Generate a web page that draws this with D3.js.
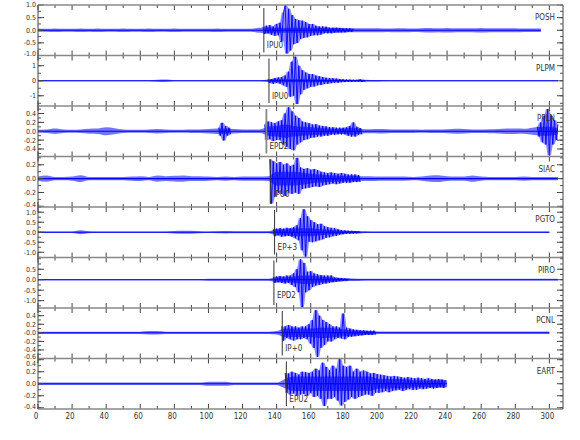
<!DOCTYPE html>
<html><head><meta charset="utf-8">
<script src="https://cdn.jsdelivr.net/npm/d3@7"></script>
<style>
body{margin:0;background:#fff}
text{font-family:"DejaVu Sans Condensed","DejaVu Sans",sans-serif;font-stretch:condensed;fill:#333}
</style>
</head><body>
<svg id="c" width="580" height="440"></svg>
<script>
// ---------------- DATA ----------------
const stations = ["POSH","PLPM","PPLN","SIAC","PGTO","PIRO","PCNL","EART"];
const pickTimes = [132.5, 135.5, 134, 136.3, 138.8, 138.4, 143.3, 145.7];
const pickLabels = ["IPU0","IPU0","EPD2","IPU0","EP+3","EPD2","IP+0","EPU2"];
const yDomains = [[-1,1],[-1.68,1.68],[-0.57,0.57],[-0.41,0.32],[-1.26,1.26],[-1.35,1.06],[-0.6,0.58],[-0.42,0.42]];
const yTickVals = [[1,0.5,0,-0.5,-1],[1,0,-1],[0.4,0.2,0,-0.2,-0.4],[0.2,0,-0.2,-0.4],[1,0.5,0,-0.5,-1],[0.5,0,-0.5,-1],[0.4,0.2,0,-0.2,-0.4,-0.6],[0.4,0.2,0,-0.2,-0.4]];
const yTickLabels = [["1.0","0.5","0.0","-0.5","-1.0"],["1","0","-1"],["0.4","0.2","0.0","-0.2","-0.4"],["0.2","0.0","-0.2","-0.4"],["1.0","0.5","0.0","-0.5","-1.0"],["0.5","0.0","-0.5","-1.0"],["0.4","0.2","-0.0","-0.2","-0.4","-0.6"],["0.4","0.2","0.0","-0.2","-0.4"]];
const yMinorStep = [0.25,0.5,0.1,0.1,0.25,0.25,0.1,0.1];
const xTickVals = [0,20,40,60,80,100,120,140,160,180,200,220,240,260,280,300];

// background noise amplitude, 5 s bins starting at t=0
const noiseStep = 5;
const POSH_noise = [0.06,0.06,0.07,0.06,0.06,0.07,0.06,0.07,0.06,0.06,0.07,0.06,0.06,0.07,0.06,0.06,0.07,0.06,0.06,0.06,0.06,0.07,0.06,0.06,0.06,0.06,0.1,0.12,0.1,0.1,0.1,0.1,0.1,0.1,0.1,0.1,0.09,0.08,0.08,0.08,0.08,0.07,0.08,0.08,0.07,0.08,0.09,0.08,0.09,0.08,0.08,0.08,0.09,0.08,0.08,0.08,0.08,0.07,0.07,0.07];
const PLPM_noise = [0.03,0.03,0.03,0.035,0.03,0.03,0.03,0.035,0.03,0.03,0.03,0.03,0.035,0.04,0.06,0.08,0.04,0.03,0.03,0.03,0.03,0.03,0.03,0.03,0.03,0.03,0.03,0.08,0.1,0.1,0.1,0.1,0.1,0.08,0.07,0.06,0.05,0.05,0.06,0.05,0.05,0.04,0.035,0.035,0.035,0.035,0.035,0.035,0.035,0.035,0.035,0.035,0.035,0.035,0.035,0.035,0.035,0.035,0.035,0.035,0.035,0.035];
const PPLN_noise = [0.035,0.04,0.06,0.04,0.035,0.04,0.055,0.06,0.09,0.07,0.04,0.035,0.035,0.04,0.05,0.04,0.035,0.035,0.04,0.04,0.05,0.06,0.06,0.05,0.04,0.04,0.04,0.1,0.12,0.15,0.12,0.1,0.09,0.08,0.06,0.05,0.06,0.08,0.05,0.045,0.05,0.045,0.04,0.04,0.04,0.035,0.04,0.04,0.045,0.055,0.05,0.04,0.04,0.045,0.05,0.06,0.06,0.055,0.08,0.1,0.1,0.06];
const SIAC_noise = [0.03,0.045,0.025,0.025,0.03,0.05,0.025,0.025,0.025,0.025,0.025,0.03,0.035,0.025,0.045,0.035,0.04,0.045,0.035,0.035,0.03,0.025,0.03,0.025,0.03,0.03,0.03,0.035,0.1,0.1,0.1,0.09,0.07,0.06,0.05,0.045,0.04,0.04,0.035,0.035,0.03,0.03,0.03,0.03,0.025,0.03,0.045,0.05,0.035,0.03,0.03,0.045,0.03,0.025,0.025,0.025,0.025,0.03,0.025,0.025,0.025,0.025];
const PGTO_noise = [0.04,0.04,0.04,0.04,0.04,0.1,0.05,0.04,0.04,0.04,0.04,0.04,0.04,0.04,0.04,0.04,0.06,0.07,0.07,0.05,0.04,0.05,0.06,0.05,0.05,0.055,0.05,0.05,0.15,0.15,0.2,0.2,0.2,0.15,0.12,0.1,0.07,0.06,0.05,0.04,0.04,0.04,0.04,0.04,0.04,0.04,0.04,0.04,0.04,0.04,0.04,0.04,0.04,0.04,0.04,0.04,0.04,0.04,0.04,0.04,0.04];
const PIRO_noise = [0.03,0.03,0.03,0.03,0.03,0.03,0.03,0.03,0.03,0.03,0.03,0.03,0.03,0.03,0.03,0.03,0.03,0.03,0.03,0.03,0.05,0.05,0.05,0.05,0.05,0.05,0.05,0.05,0.12,0.12,0.15,0.2,0.2,0.15,0.12,0.1,0.07,0.06,0.045,0.04,0.04,0.04,0.04,0.04,0.04,0.04,0.04,0.04,0.04,0.04,0.04,0.04,0.04,0.04,0.04,0.04,0.04,0.04,0.04,0.04,0.04,0.04];
const PCNL_noise = [0.025,0.025,0.025,0.025,0.025,0.025,0.025,0.025,0.025,0.025,0.025,0.025,0.025,0.04,0.04,0.025,0.025,0.025,0.025,0.025,0.025,0.025,0.025,0.025,0.025,0.025,0.025,0.025,0.04,0.1,0.1,0.1,0.1,0.12,0.12,0.1,0.08,0.06,0.05,0.04,0.03,0.03,0.03,0.03,0.03,0.03,0.03,0.03,0.03,0.03,0.03,0.03,0.03,0.03,0.03,0.03,0.03,0.03,0.03,0.03,0.03];
const EART_noise = [0.02,0.02,0.02,0.02,0.02,0.02,0.02,0.02,0.02,0.02,0.02,0.02,0.02,0.02,0.02,0.02,0.02,0.02,0.02,0.02,0.035,0.035,0.035,0.02,0.02,0.02,0.02,0.02,0.02,0.08,0.12,0.12,0.12,0.12,0.12,0.12,0.12,0.12,0.12,0.12,0.08,0.08,0.08,0.08,0.06,0.06,0.06,0.06,0.06];

// signal peaks, 1 s step, starting at the given time
const waveStep = 1;
const POSH_wave_t0 = 132;
const POSH_wave = [0.12,-0.15,0.18,-0.12,0.2,-0.18,0.15,-0.22,0.25,-0.2,0.3,-0.45,0.7,1.0,-0.92,0.85,-0.8,0.6,-0.55,0.45,-0.5,0.4,-0.35,0.38,-0.3,0.32,-0.28,0.25,-0.22,0.25,-0.2,0.18,-0.2,0.15,-0.17,0.15,-0.12,0.14,-0.12,0.1,-0.12,0.1,-0.09,0.1,-0.08,0.09,-0.08,0.07,-0.08,0.07,-0.06,0.07,-0.06,0.06];
const PLPM_wave_t0 = 135;
const PLPM_wave = [0.1,-0.15,0.12,-0.2,0.18,-0.15,0.22,-0.2,0.25,-0.3,0.35,-0.4,0.6,-1.06,1.27,-1.0,1.6,-1.55,1.0,-0.9,0.7,-0.6,0.55,-0.5,0.45,-0.4,0.45,-0.38,0.35,-0.3,0.3,-0.28,0.25,-0.22,0.2,-0.2,0.18,-0.16,0.17,-0.14,0.15,-0.13,0.12,-0.1,0.1,-0.09,0.09,-0.08,0.08,-0.07,0.07,-0.06,0.06,-0.06,0.1,-0.08,0.05,-0.05];
const PPLN_wave_t0 = 133;
const PPLN_wave = [0.15,-0.2,0.22,-0.18,0.2,-0.22,0.18,-0.2,0.22,-0.2,0.25,-0.3,0.4,-0.35,0.54,-0.4,0.45,-0.43,0.35,-0.3,0.3,-0.25,0.22,-0.2,0.2,-0.18,0.18,-0.15,0.15,-0.14,0.16,-0.12,0.13,-0.12,0.12,-0.1,0.11,-0.1,0.09,-0.08,0.09,-0.08,0.08,-0.07,0.08,-0.07,0.08,-0.07,0.09,-0.1,0.12,-0.12,0.2,-0.12,0.1,-0.08,0.07,-0.07];
const PPLN_ev1_t0 = 106;
const PPLN_ev1 = [0.08,-0.1,0.19,-0.21,0.12,-0.1,0.08,-0.07];
const PPLN_ev2_t0 = 293;
const PPLN_ev2 = [0.1,-0.12,0.2,-0.25,0.35,-0.3,0.5,-0.54,0.35,-0.3,0.25,-0.2,0.15];
const SIAC_wave_t0 = 136;
const SIAC_wave = [0.28,-0.36,0.25,-0.26,0.22,-0.2,0.24,-0.22,0.2,-0.25,0.22,-0.2,0.18,-0.22,0.2,-0.2,0.3,-0.22,0.16,-0.15,0.14,-0.14,0.15,-0.13,0.13,-0.12,0.14,-0.11,0.12,-0.12,0.1,-0.1,0.09,-0.09,0.08,-0.08,0.09,-0.07,0.08,-0.08,0.07,-0.07,0.08,-0.06,0.07,-0.06,0.06,-0.06,0.06,-0.05,0.06,-0.05,0.05,-0.05];
const PGTO_wave_t0 = 138;
const PGTO_wave = [0.15,-0.2,0.18,-0.15,0.2,-0.22,0.18,-0.2,0.22,-0.18,0.2,-0.22,0.25,-0.3,0.35,-0.4,0.7,-0.9,1.15,-1.22,0.8,-0.47,0.6,-0.5,0.5,-0.45,0.4,-0.4,0.42,-0.35,0.3,-0.28,0.25,-0.25,0.22,-0.2,0.2,-0.18,0.15,-0.12,0.1,-0.1,0.09,-0.08,0.08,-0.07,0.07,-0.06,0.06,-0.06,0.05,-0.05];
const PIRO_wave_t0 = 138;
const PIRO_wave = [0.12,-0.15,0.15,-0.12,0.18,-0.15,0.15,-0.18,0.2,-0.15,0.2,-0.25,0.3,-0.35,0.5,-0.6,0.97,-1.31,0.8,-0.6,0.38,-0.5,0.4,-0.35,0.3,-0.28,0.25,-0.25,0.22,-0.2,0.2,-0.18,0.2,-0.15,0.2,-0.12,0.1,-0.1,0.08,-0.07,0.07,-0.06,0.06,-0.05,0.05];
const PCNL_wave_t0 = 143;
const PCNL_wave = [0.15,-0.18,0.15,-0.12,0.18,-0.15,0.15,-0.18,0.15,-0.15,0.12,-0.15,0.15,-0.12,0.15,-0.15,0.2,-0.25,0.3,-0.35,0.53,-0.56,0.4,-0.35,0.3,-0.28,0.25,-0.2,0.2,-0.2,0.15,-0.15,0.15,-0.12,0.12,-0.13,0.45,-0.15,0.12,-0.1,0.1,-0.09,0.08,-0.08,0.07,-0.07,0.06,-0.06,0.06,-0.05,0.05,-0.05,0.05,-0.05,0.05,-0.04];
const EART_wave_t0 = 145;
const EART_wave = [0.18,-0.15,0.17,-0.18,0.2,-0.16,0.18,-0.2,0.15,-0.18,0.2,-0.17,0.19,-0.2,0.18,-0.15,0.2,-0.22,0.25,-0.2,0.22,-0.25,0.35,-0.37,0.28,-0.25,0.22,-0.25,0.3,-0.22,0.25,-0.28,0.42,-0.36,0.3,-0.3,0.28,-0.26,0.3,-0.22,0.2,-0.25,0.25,-0.22,0.2,-0.2,0.22,-0.18,0.2,-0.18,0.17,-0.2,0.18,-0.15,0.16,-0.15,0.15,-0.14,0.14,-0.12,0.13,-0.14,0.12,-0.12,0.13,-0.11,0.12,-0.1,0.11,-0.12,0.1,-0.1,0.11,-0.09,0.1,-0.1,0.09,-0.1,0.1,-0.08,0.09,-0.09,0.08,-0.08,0.09,-0.07,0.08,-0.08,0.07,-0.07,0.08,-0.06,0.07,-0.07,0.06];

const noiseSets = [POSH_noise,PLPM_noise,PPLN_noise,SIAC_noise,PGTO_noise,PIRO_noise,PCNL_noise,EART_noise];
const waveSets = [
  [[POSH_wave_t0,POSH_wave]],
  [[PLPM_wave_t0,PLPM_wave]],
  [[PPLN_ev1_t0,PPLN_ev1],[PPLN_wave_t0,PPLN_wave],[PPLN_ev2_t0,PPLN_ev2]],
  [[SIAC_wave_t0,SIAC_wave]],
  [[PGTO_wave_t0,PGTO_wave]],
  [[PIRO_wave_t0,PIRO_wave]],
  [[PCNL_wave_t0,PCNL_wave]],
  [[EART_wave_t0,EART_wave]]
];

// ---------------- DRAW ----------------
const svg = d3.select("#c");
const L = 38, R = 563, TOP = 5, PH = 50.5, N = stations.length;
const BOTTOM = TOP + PH*N;
const x = d3.scaleLinear().domain([0,308]).range([L,R]);
const blue = "#0000ff";

const defs = svg.append("defs");

stations.forEach((name, i) => {
  const y0 = TOP + i*PH, y1 = y0 + PH;
  const y = d3.scaleLinear().domain(yDomains[i]).range([y1, y0]);
  const g = svg.append("g");
  defs.append("clipPath").attr("id","clip"+i).append("rect")
    .attr("x",L).attr("y",y0).attr("width",R-L).attr("height",PH);
  const tg = g.append("g").attr("clip-path","url(#clip"+i+")");

  // noise band + centre line
  const noise = noiseSets[i].map((a,k)=>({t:k*noiseStep,a}));
  tg.append("path").datum(noise)
    .attr("d", d3.area().x(d=>x(d.t)).y0(d=>y(-d.a)).y1(d=>y(d.a)).curve(d3.curveMonotoneX))
    .attr("fill",blue).attr("fill-opacity",0.55);
  tg.append("line").attr("x1",x(0)).attr("x2",x(noise[noise.length-1].t))
    .attr("y1",y(0)).attr("y2",y(0)).attr("stroke",blue).attr("stroke-width",1.1);

  // signal: filled core between neighbouring peaks, plus the zig-zag trace
  waveSets[i].forEach(([t0, vals]) => {
    const pts = vals.map((v,k)=>{
      const p = k>0 ? vals[k-1] : 0, n = k<vals.length-1 ? vals[k+1] : 0;
      const hi = v>0 ? v : Math.max(p,n,0), lo = v<0 ? v : Math.min(p,n,0);
      return {t:t0+k*waveStep, v, hi, lo};
    });
    tg.append("path").datum(pts)
      .attr("d", d3.area().x(d=>x(d.t)).y0(d=>y(d.lo)).y1(d=>y(d.hi)))
      .attr("fill",blue).attr("fill-opacity",0.45);
    tg.append("path").datum(pts)
      .attr("d", d3.line().x(d=>x(d.t)).y(d=>y(d.v)))
      .attr("fill","none").attr("stroke",blue).attr("stroke-width",0.9);
  });

  // pick
  const px = x(pickTimes[i]);
  g.append("line").attr("x1",px).attr("x2",px).attr("y1",y0+3).attr("y2",y1-3)
    .attr("stroke", i===2 ? "#888" : "#333").attr("stroke-width", i===2 ? 1.8 : 1);
  g.append("text").attr("x",px+3).attr("y",y(0)+18).attr("font-size",8).text(pickLabels[i]);

  // station label
  g.append("text").attr("x",R-8).attr("y",y0+15).attr("text-anchor","end").attr("font-size",8).text(name);

  // y ticks (left + right)
  const [dmin,dmax] = yDomains[i];
  const ms = yMinorStep[i];
  const minors = d3.range(Math.ceil(dmin/ms), Math.floor(dmax/ms)+1).map(k=>k*ms);
  minors.forEach(v=>{
    const yy = y(v);
    g.append("line").attr("x1",L).attr("x2",L+3).attr("y1",yy).attr("y2",yy).attr("stroke","#555");
    g.append("line").attr("x1",R).attr("x2",R-3).attr("y1",yy).attr("y2",yy).attr("stroke","#555");
  });
  yTickVals[i].forEach((v,k)=>{
    const yy = y(v);
    g.append("line").attr("x1",L).attr("x2",L+6).attr("y1",yy).attr("y2",yy).attr("stroke","#444");
    g.append("line").attr("x1",R).attr("x2",R-6).attr("y1",yy).attr("y2",yy).attr("stroke","#444");
    const ly = i===0 ? Math.min(yy, y1-2) : Math.max(y0+5, Math.min(yy, y1-2));
    g.append("text").attr("x",L-2).attr("y",ly).attr("dy","0.35em").attr("text-anchor","end")
      .attr("font-size",7).text(yTickLabels[i][k]);
  });

  // x ticks top/bottom
  d3.range(0,308,10).forEach(t=>{
    const len = (t%20===0) ? 5 : 3;
    g.append("line").attr("x1",x(t)).attr("x2",x(t)).attr("y1",y0).attr("y2",y0+len).attr("stroke","#444");
    g.append("line").attr("x1",x(t)).attr("x2",x(t)).attr("y1",y1).attr("y2",y1-len).attr("stroke","#444");
  });

  // panel border line (top)
  g.append("line").attr("x1",L).attr("x2",R).attr("y1",y0).attr("y2",y0).attr("stroke","#888").attr("stroke-width",1.5);
});

// frame
svg.append("line").attr("x1",L).attr("x2",R).attr("y1",BOTTOM).attr("y2",BOTTOM).attr("stroke","#888").attr("stroke-width",1.5);
svg.append("line").attr("x1",L).attr("x2",L).attr("y1",TOP).attr("y2",BOTTOM).attr("stroke","#444").attr("stroke-width",1);
svg.append("line").attr("x1",R).attr("x2",R).attr("y1",TOP).attr("y2",BOTTOM).attr("stroke","#444").attr("stroke-width",1);

// x axis labels
svg.append("g").selectAll("text").data(xTickVals).join("text")
  .attr("x",d=>x(d)-2).attr("y",BOTTOM+10).attr("text-anchor","middle").attr("font-size",8).text(d=>d);
</script>
</body></html>
